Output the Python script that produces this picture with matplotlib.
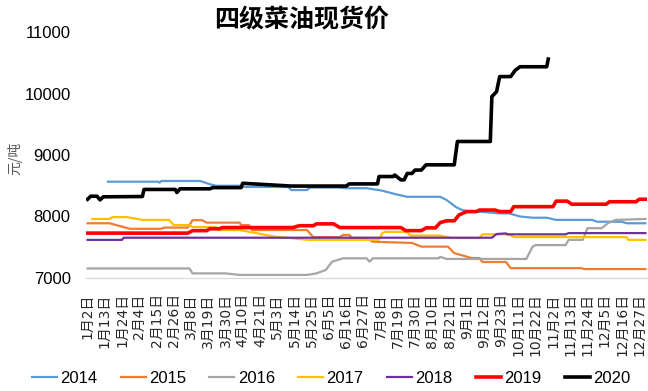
import matplotlib.pyplot as plt
import pandas as pd

plt.rcParams['font.family'] = ['Liberation Sans Narrow', 'Liberation Sans', 'Noto Sans CJK SC']

# trading calendar: every day of the year except the closed days
closed_days = ['2020-05-01', '2020-10-01', '2020-10-02', '2020-10-03',
               '2020-10-04', '2020-10-05', '2020-10-06', '2020-10-07']
days = pd.date_range('2020-01-02', '2020-12-31')
days = days[~days.isin(pd.to_datetime(closed_days))]
pos = {f"{d.month}-{d.day}": i for i, d in enumerate(days)}

# price turning points per year (date, yuan/ton)
d2014 = ['1-15', '2-16', '2-17', '2-18', '3-14', '3-20', '3-24', '4-8', '4-11', '5-10',
         '5-12', '5-22', '5-24', '6-11', '6-16', '6-29', '7-9', '7-18', '7-25', '8-15',
         '8-19', '8-25', '8-29', '9-5', '9-11', '9-22', '9-28', '10-12', '10-20', '10-29',
         '11-4', '11-27', '11-30', '12-16', '12-19', '12-31']
v2014 = [8566, 8566, 8550, 8577, 8577, 8525, 8500, 8500, 8480, 8480,
         8430, 8430, 8470, 8470, 8460, 8460, 8420, 8360, 8320, 8320,
         8270, 8155, 8105, 8075, 8075, 8050, 8050, 8000, 7980, 7980,
         7945, 7945, 7915, 7915, 7890, 7890]

d2015 = ['1-2', '1-16', '1-29', '2-18', '2-20', '3-6', '3-9', '3-15', '3-18', '4-8',
         '4-9', '4-14', '4-16', '5-22', '5-26', '6-12', '6-14', '6-18', '6-20', '6-29',
         '7-3', '7-28', '8-3', '8-20', '8-24', '9-4', '9-9', '9-11', '9-26', '9-29',
         '11-20', '11-22', '12-31']
v2015 = [7890, 7890, 7800, 7800, 7820, 7820, 7940, 7940, 7900, 7900,
         7860, 7860, 7780, 7780, 7665, 7665, 7700, 7700, 7650, 7650,
         7590, 7570, 7510, 7510, 7405, 7325, 7325, 7260, 7260, 7160,
         7160, 7145, 7145]

d2016 = ['1-2', '3-7', '3-9', '3-30', '4-8', '5-22', '5-28', '6-3', '6-7', '6-14',
         '6-29', '7-1', '7-3', '8-14', '8-15', '8-19', '10-16', '10-20', '10-22', '11-10',
         '11-12', '11-21', '11-24', '12-3', '12-7', '12-12', '12-31']
v2016 = [7155, 7155, 7075, 7075, 7050, 7050, 7075, 7130, 7265, 7320,
         7320, 7265, 7320, 7320, 7345, 7310, 7310, 7510, 7535, 7535,
         7620, 7620, 7810, 7810, 7890, 7945, 7960]

d2017 = ['1-5', '1-16', '1-18', '1-27', '2-6', '2-23', '2-26', '3-7', '3-9', '3-24',
         '3-26', '4-8', '5-2', '5-23', '7-7', '7-9', '7-11', '7-25', '7-27', '8-15',
         '8-22', '9-9', '9-11', '9-28', '10-8', '12-19', '12-20', '12-31']
v2017 = [7960, 7960, 7990, 7990, 7945, 7945, 7860, 7860, 7830, 7830,
         7780, 7780, 7670, 7620, 7620, 7730, 7750, 7750, 7690, 7690,
         7650, 7650, 7710, 7710, 7665, 7665, 7620, 7620]

d2018 = ['1-2', '1-24', '1-25', '9-17', '9-20', '9-26', '9-27', '11-10', '11-12', '12-31']
v2018 = [7620, 7620, 7655, 7655, 7715, 7725, 7710, 7710, 7730, 7730]

d2019 = ['1-2', '3-6', '3-9', '3-18', '3-20', '3-26', '3-28', '5-13', '5-17', '5-26',
         '5-28', '6-8', '6-12', '7-21', '7-24', '8-3', '8-6', '8-12', '8-15', '8-19',
         '8-24', '8-27', '9-1', '9-7', '9-9', '9-19', '9-22', '9-29', '10-8', '11-2',
         '11-4', '11-11', '11-14', '12-6', '12-8', '12-25', '12-27', '12-31']
v2019 = [7730, 7730, 7770, 7770, 7800, 7800, 7820, 7820, 7850, 7850,
         7880, 7880, 7820, 7820, 7770, 7770, 7815, 7815, 7900, 7930,
         7930, 8025, 8080, 8080, 8105, 8105, 8080, 8080, 8160, 8160,
         8250, 8250, 8200, 8200, 8240, 8240, 8280, 8280]

d2020 = ['1-2', '1-4', '1-8', '1-10', '1-12', '2-6', '2-7', '2-27', '2-28', '3-1',
         '3-20', '3-22', '4-9', '4-10', '5-12', '6-16', '6-18', '7-6', '7-7', '7-16',
         '7-17', '7-21', '7-23', '7-25', '7-28', '7-30', '8-3', '8-6', '8-24', '8-26',
         '9-16', '9-17', '9-20', '9-22', '9-29', '10-9', '10-12', '10-29', '10-30']
v2020 = [8280, 8330, 8330, 8270, 8320, 8325, 8440, 8440, 8390, 8450,
         8450, 8470, 8470, 8540, 8495, 8495, 8530, 8530, 8650, 8650,
         8675, 8595, 8595, 8700, 8700, 8755, 8755, 8840, 8840, 9220,
         9220, 9950, 10030, 10275, 10275, 10380, 10435, 10435, 10560]

series = [('2014', d2014, v2014, '#5B9BD5', 1.6),
          ('2015', d2015, v2015, '#ED7D31', 1.6),
          ('2016', d2016, v2016, '#A5A5A5', 1.6),
          ('2017', d2017, v2017, '#FFC000', 1.6),
          ('2018', d2018, v2018, '#7030A0', 1.6),
          ('2019', d2019, v2019, '#FF0000', 2.6),
          ('2020', d2020, v2020, '#000000', 2.6)]

fig = plt.figure(figsize=(6.48, 3.91), dpi=100)
ax = fig.add_axes([86 / 648, 113 / 391, 561 / 648, 246 / 391])

for name, dates, vals, color, lw in series:
    x = [pos[d] for d in dates]
    ax.plot(x, vals, color=color, lw=lw, label=name, solid_joinstyle='round')

ax.set_xlim(-1, 357)
ax.set_ylim(7000, 11000)
ax.set_yticks(range(7000, 11001, 1000))

ticks = list(range(0, len(days), 11))
ax.set_xticks(ticks)
ax.set_xticklabels([f"{days[i].month}月{days[i].day}日" for i in ticks],
                   family=['DejaVu Sans', 'Noto Sans CJK SC'], fontsize=10,
                   rotation=90, color='#262626')
ax.tick_params(axis='x', length=0, pad=11)
ax.tick_params(axis='y', length=0, pad=11, labelsize=12)

for s in ['top', 'right', 'left']:
    ax.spines[s].set_visible(False)
ax.spines['bottom'].set_color('#D9D9D9')
ax.spines['bottom'].set_linewidth(0.9)

fig.text(302 / 648, 1 - 20 / 391, '四级菜油现货价', ha='center', va='center',
         fontsize=18, fontweight='bold', family=['Noto Sans CJK SC'])
fig.text(15 / 648, 1 - 158 / 391, '元/吨', rotation=90, ha='center', va='center',
         fontsize=10, color='#595959', family=['Noto Sans CJK SC'])

fig.legend(ncol=7, loc='center', bbox_to_anchor=(0.511, 0.033), frameon=False,
           handlelength=1.5, handletextpad=0.2, columnspacing=1.4, fontsize=12)

fig.savefig('out.png', dpi=100)
